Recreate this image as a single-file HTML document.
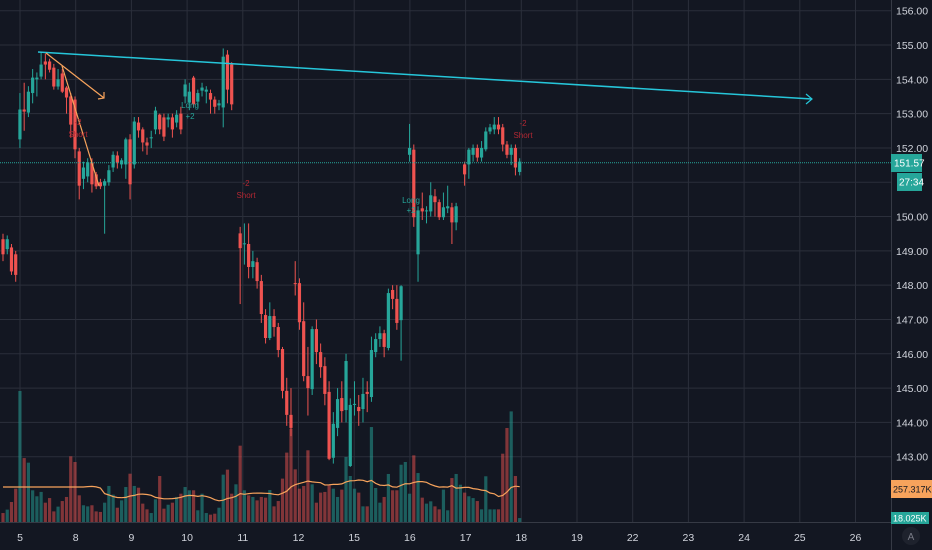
<!DOCTYPE html>
<html><head><meta charset="utf-8"><style>
html,body{margin:0;padding:0;background:#131722;width:932px;height:550px;overflow:hidden}
svg{display:block;font-family:"Liberation Sans",sans-serif}
</style></head><body>
<svg id="chart" width="932" height="550" viewBox="0 0 932 550" xmlns="http://www.w3.org/2000/svg">
<rect x="0" y="0" width="932" height="550" fill="#131722"/>
<g id="grid"></g>
<g id="vol"></g>
<g id="candles"></g>
<g id="draw"></g>
<g id="axes"></g>
</svg>
<script>
const priceTicks=[143,144,145,146,147,148,149,150,151,152,153,154,155,156];
const dayLabels=["5","8","9","10","11","12","15","16","17","18","19","22","23","24","25","26"];
const opens=[149.34,149.05,149.1,148.9,152.25,153.12,153.03,153.6,154.0,154.08,154.52,154.52,154.34,153.79,154.17,153.76,153.5,153.41,151.9,151.1,151.17,151.58,151.23,151.0,150.9,151.0,151.43,151.78,151.52,151.52,152.25,151.52,152.74,152.54,152.16,152.28,152.54,152.97,152.89,152.83,152.89,152.74,153.0,153.5,153.32,154.05,153.35,153.67,153.64,153.6,153.41,153.24,153.18,154.72,154.43,null,149.51,149.2,149.2,148.53,148.67,148.12,147.13,146.46,147.1,146.78,146.14,144.92,144.22,148.06,148.06,146.95,145.35,144.97,146.72,146.05,145.64,144.89,142.97,143.84,144.71,144.36,142.73,144.51,144.45,144.39,144.89,144.74,146.05,146.43,146.6,146.17,147.86,147.6,146.98,null,151.8,151.95,148.9,150.24,150.15,150.15,150.59,150.42,149.98,150.24,150.27,149.83,null,151.52,151.52,151.8,152.0,151.72,151.96,152.48,152.54,152.68,152.6,152.1,151.8,152.0,151.3];
const closes=[148.9,149.34,148.4,148.3,153.12,153.06,153.64,154.05,154.05,154.43,154.43,154.28,153.79,154.0,153.64,153.47,152.68,151.96,150.9,151.43,151.58,150.94,150.88,150.88,151.03,151.35,151.8,151.58,151.64,152.25,150.94,152.77,152.51,152.16,152.07,152.31,153.09,152.54,152.33,152.89,152.54,152.97,152.54,153.85,153.64,153.27,153.6,153.76,153.7,153.41,153.2,153.3,154.66,153.7,153.27,null,149.08,149.22,148.53,148.7,148.12,147.16,146.46,147.1,146.78,146.11,144.92,144.22,143.84,148.05,146.92,145.35,145.0,146.72,146.05,145.61,144.83,142.94,143.96,144.68,144.33,145.79,144.51,144.54,144.33,144.83,144.83,146.11,146.43,146.6,146.2,147.77,147.6,146.9,147.97,null,152.0,149.98,150.18,150.15,150.18,150.62,150.42,149.98,150.27,150.3,149.83,150.3,null,151.23,151.95,152.0,151.72,152.0,152.48,152.6,152.68,152.54,152.1,151.8,152.0,151.43,151.6];
const highs=[149.5,149.45,149.2,149.0,153.6,153.9,153.8,154.3,154.2,154.8,154.75,154.6,154.45,154.3,154.3,153.8,153.6,153.5,152.0,151.6,151.7,151.7,151.3,151.1,151.1,151.5,151.9,151.9,151.7,152.3,152.4,152.9,152.9,152.6,152.3,152.5,153.2,153.0,153.0,153.0,153.0,153.1,153.2,154.0,153.9,154.1,153.7,153.9,153.8,153.7,153.5,153.4,154.9,154.85,154.5,null,149.7,149.8,149.8,149.0,148.8,148.3,147.3,147.5,147.3,146.9,146.2,145.3,145.0,148.7,148.2,147.5,146.2,146.8,147.0,146.3,145.9,145.2,144.3,145.0,145.2,146.0,144.7,145.2,144.8,145.3,145.2,146.5,146.6,146.8,146.7,147.9,148.0,148.0,148.0,null,152.7,152.1,150.3,150.7,150.3,151.0,150.8,150.5,150.7,150.9,150.4,150.4,null,151.6,152.0,152.1,152.1,152.2,152.6,152.7,152.9,152.9,152.7,152.2,152.1,152.1,151.7];
const lows=[148.7,148.9,148.3,148.1,152.0,152.5,152.9,153.3,153.5,154.0,154.0,154.2,153.7,153.7,153.6,153.0,152.3,151.7,150.5,150.8,151.0,150.7,150.8,150.8,149.5,150.9,151.3,151.4,151.4,151.1,150.5,151.4,152.3,151.9,151.8,152.0,152.4,152.4,152.2,152.6,152.3,152.6,152.4,153.3,153.1,153.2,153.2,153.5,153.3,153.0,153.0,153.1,152.6,153.3,153.1,null,147.45,148.6,148.2,148.2,147.9,146.9,146.3,146.4,146.5,145.9,144.7,143.9,143.6,147.7,146.7,145.2,144.2,144.8,145.7,145.3,144.5,142.9,142.8,143.6,144.0,144.0,142.7,144.2,143.9,144.0,144.3,144.6,145.9,146.2,145.9,146.1,147.3,146.7,145.8,null,151.6,149.7,148.1,149.9,149.8,150.0,150.0,149.9,149.9,150.1,149.2,149.6,null,150.9,151.1,151.6,151.6,151.6,151.9,152.4,152.4,152.4,151.9,151.7,151.5,151.2,151.2];
const volumes=[66,91,147,245,963,470,436,233,189,221,142,176,78,113,154,184,483,441,196,123,115,123,78,74,142,265,201,105,159,257,355,265,252,135,93,66,167,338,98,127,142,184,208,257,233,233,86,208,66,54,61,105,348,385,208,277,561,233,196,184,159,184,179,235,115,154,319,510,686,387,245,265,527,277,142,216,221,274,245,184,238,478,338,245,216,115,115,698,250,142,184,353,233,233,421,441,208,490,360,179,135,152,115,93,238,86,323,353,274,216,189,176,154,93,336,93,93,93,502,691,813,338,29];

const NS="http://www.w3.org/2000/svg";
const PR=891,PB=522;
const yP=p=>10.7+(156-p)*34.31;
const X0=3,STEP=4.235;
const xI=i=>X0+i*STEP;
const xDay=k=>20+k*55.7;
const volH=v=>v/7.35;
function mk(t,a,parent){const e=document.createElementNS(NS,t);for(const k in a)e.setAttribute(k,a[k]);parent.appendChild(e);return e;}
const grid=document.getElementById('grid'),volG=document.getElementById('vol'),cG=document.getElementById('candles');

priceTicks.forEach(p=>{const l=mk('line',{x1:0,x2:PR,y1:yP(p),y2:yP(p),stroke:'#2b2f3b','stroke-width':1},grid);

});
dayLabels.forEach((d,k)=>{const l=mk('line',{x1:xDay(k),x2:xDay(k),y1:0,y2:PB,stroke:'#2b2f3b','stroke-width':1},grid);

});

const nV=volumes.length;
volumes.forEach((v,i)=>{
  let up=true;
  if(opens[i]!=null&&closes[i]!=null) up=closes[i]>=opens[i];
  const h=volH(v);
  const r=mk('rect',{x:xI(i)-1.6,y:PB-h,width:3.2,height:h,fill:up?'#26a69a':'#ef5350','fill-opacity':0.5},volG);
  
  
});
let pts=[];
for(let i=0;i<nV;i++){let a=Math.max(0,i-19),b=a+19;if(b>=nV)b=nV-1;let s=0,c=0;for(let j=a;j<=Math.max(i,b>i&&i<19?b:i);j++){s+=volumes[j];c++;}pts.push(xI(i).toFixed(1)+','+(PB-volH(s/c)).toFixed(1));}
const ma=mk('polyline',{points:pts.join(' '),fill:'none',stroke:'#f7a35c','stroke-width':1.2},volG);



for(let i=0;i<opens.length;i++){
  if(opens[i]==null)continue;
  const o=opens[i],c=closes[i],h=highs[i],l=lows[i];
  const col=c>=o?'#26a69a':'#ef5350';
  const x=xI(i);
  const w=mk('line',{x1:x,x2:x,y1:yP(h),y2:yP(l),stroke:col,'stroke-width':1},cG);
  
  
  const top=yP(Math.max(o,c)),bh=Math.max(1,Math.abs(yP(o)-yP(c)));
  const b=mk('rect',{x:x-1.6,y:top,width:3.2,height:bh,fill:col},cG);
  
  
}
</script>
<script>
(function(){
const NS="http://www.w3.org/2000/svg";
const yP=p=>10.7+(156-p)*34.31;
function mk(t,a,parent){const e=document.createElementNS(NS,t);for(const k in a)e.setAttribute(k,a[k]);parent.appendChild(e);return e;}
const dG=document.getElementById('draw'),aG=document.getElementById('axes');
let e=mk('line',{x1:38,y1:52,x2:812,y2:99,stroke:'#26c6da','stroke-width':1.5},dG);


e=mk('polyline',{points:'806,94 812,99 806,104',fill:'none',stroke:'#26c6da','stroke-width':1.2},dG);


e=mk('line',{x1:46,y1:53,x2:104,y2:98,stroke:'#f7a35c','stroke-width':1.2},dG);


e=mk('polyline',{points:'104,92 104,98 98,99',fill:'none',stroke:'#f7a35c','stroke-width':1.2},dG);


e=mk('line',{x1:62,y1:66,x2:99,y2:186,stroke:'#f7a35c','stroke-width':1.2},dG);


e=mk('line',{x1:0,x2:891,y1:yP(151.57),y2:yP(151.57),stroke:'#26a69a','stroke-width':1,'stroke-dasharray':'1,1'},dG);


const sig=[[78,'-2','Short','#b22833',125,137],[246,'-2','Short','#b22833',186,198],[523,'-2','Short','#b22833',126,138],[190,'Long','+2','#26a69a',108,119],[411,'Long','+2','#26a69a',203,213]];
sig.forEach(s=>{[s[1],s[2]].forEach((t,k)=>{const tx=mk('text',{x:s[0],y:s[4+k],fill:s[3],'font-size':8,'text-anchor':'middle'},dG);tx.textContent=t;

});});
e=mk('line',{x1:891.5,x2:891.5,y1:0,y2:550,stroke:'#363a45','stroke-width':1},aG);


e=mk('line',{x1:0,x2:891,y1:522.5,y2:522.5,stroke:'#363a45','stroke-width':1},aG);


priceTicks.forEach(p=>{if(p===151)return;const t=mk('text',{x:896,y:yP(p)+4,fill:'#d1d4dc','font-size':10.5},aG);t.textContent=p.toFixed(2);

});
dayLabels.forEach((d,k)=>{const t=mk('text',{x:20+k*55.7,y:541,fill:'#d1d4dc','font-size':10.5,'text-anchor':'middle'},aG);t.textContent=d;

});
const boxes=[[891,154,31,18,'#26a69a','151.57','#ffffff',894,10],[897,173,25,18,'#26a69a','27:34','#ffffff',899,10],[891,480,41,18,'#f7a35c','257.317K','#131722',893,9],[891,512,38,12,'#26a69a','18.025K','#ffffff',893,9]];
boxes.forEach(b=>{const r=mk('rect',{x:b[0],y:b[1],width:b[2],height:b[3],fill:b[4]},aG);


const t=mk('text',{x:b[7],y:b[1]+b[3]/2+3.5,fill:b[6],'font-size':b[8]},aG);t.textContent=b[5];

});
e=mk('circle',{cx:911,cy:536,r:9,fill:'#1e222d'},aG);


e=mk('text',{x:911,y:540,fill:'#787b86','font-size':10,'text-anchor':'middle'},aG);e.textContent='A';


})();
</script>
</body></html>
